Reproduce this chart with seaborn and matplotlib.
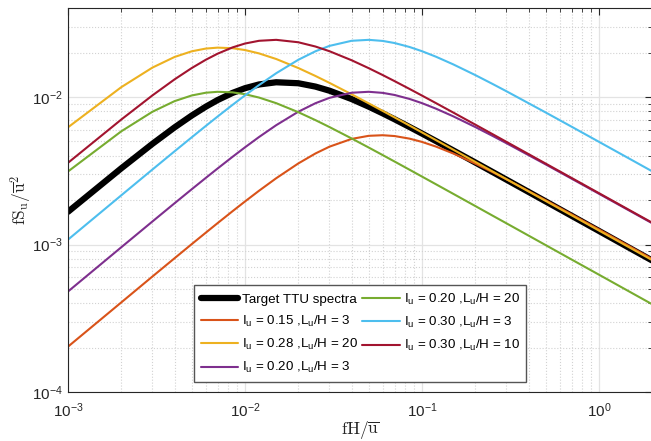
import numpy as np
import pandas as pd
import seaborn as sns
import matplotlib
matplotlib.use("Agg")
import matplotlib.pyplot as plt
from matplotlib.ticker import LogLocator, NullFormatter

# --------------------------
# data (fH/u, fSu/u^2)
# --------------------------
x_grid = [0.001, 0.002, 0.003, 0.004, 0.005, 0.006, 0.007, 0.0085, 0.01, 0.012,
          0.015, 0.02, 0.025, 0.03, 0.04, 0.05, 0.06, 0.07, 0.085, 0.1,
          0.12, 0.15, 0.2, 0.25, 0.3, 0.5, 0.7, 1.0, 1.5, 2.0]

target_ttu = [0.001666, 0.003285, 0.004816, 0.006224, 0.007486, 0.008590, 0.009533, 0.010659,
              0.011474, 0.012163, 0.012587, 0.012398, 0.011766, 0.011036, 0.009687, 0.008602,
              0.007746, 0.007062, 0.006262, 0.005651, 0.005025, 0.004346, 0.003598, 0.003105,
              0.002751, 0.001959, 0.001566, 0.001235, 0.000942, 0.000778]
iu015_l3 = [0.000203, 0.000405, 0.000607, 0.000807, 0.001006, 0.001202, 0.001396, 0.001681,
            0.001958, 0.002314, 0.002813, 0.003544, 0.004141, 0.004605, 0.005198, 0.005456,
            0.005506, 0.005436, 0.005221, 0.004960, 0.004610, 0.004142, 0.003537, 0.003098,
            0.002768, 0.001995, 0.001600, 0.001264, 0.000966, 0.000797]
iu028_l20 = [0.006229, 0.011661, 0.015830, 0.018679, 0.020407, 0.021296, 0.021610, 0.021421,
             0.020814, 0.019753, 0.018099, 0.015722, 0.013887, 0.012468, 0.010436, 0.009052,
             0.008045, 0.007274, 0.006404, 0.005753, 0.005099, 0.004397, 0.003632, 0.003131,
             0.002773, 0.001973, 0.001577, 0.001243, 0.000949, 0.000783]
iu020_l3 = [0.000480, 0.000958, 0.001433, 0.001904, 0.002369, 0.002826, 0.003275, 0.003930,
            0.004559, 0.005354, 0.006439, 0.007945, 0.009074, 0.009870, 0.010688, 0.010848,
            0.010665, 0.010321, 0.009703, 0.009084, 0.008333, 0.007400, 0.006257, 0.005454,
            0.004861, 0.003490, 0.002795, 0.002207, 0.001685, 0.001392]
iu020_l20 = [0.003126, 0.005853, 0.007945, 0.009375, 0.010242, 0.010688, 0.010846, 0.010751,
             0.010446, 0.009914, 0.009084, 0.007890, 0.006970, 0.006257, 0.005237, 0.004543,
             0.004037, 0.003651, 0.003214, 0.002887, 0.002559, 0.002207, 0.001823, 0.001571,
             0.001392, 0.000990, 0.000791, 0.000624, 0.000476, 0.000393]
iu030_l3 = [0.001079, 0.002155, 0.003225, 0.004284, 0.005329, 0.006359, 0.007369, 0.008842,
            0.010258, 0.012046, 0.014489, 0.017876, 0.020417, 0.022207, 0.024048, 0.024409,
            0.023996, 0.023222, 0.021833, 0.020438, 0.018749, 0.016649, 0.014079, 0.012272,
            0.010938, 0.007851, 0.006290, 0.004965, 0.003792, 0.003131]
iu030_l10 = [0.003579, 0.007034, 0.010258, 0.013168, 0.015714, 0.017876, 0.019660, 0.021687,
             0.023044, 0.024048, 0.024409, 0.023504, 0.021990, 0.020438, 0.017754, 0.015682,
             0.014079, 0.012811, 0.011341, 0.010222, 0.009084, 0.007851, 0.006496, 0.005604,
             0.004965, 0.003535, 0.002826, 0.002228, 0.001700, 0.001404]

labels = ['Target TTU spectra',
          r'I$_\mathregular{u}$ = 0.15 ,L$_\mathregular{u}$/H = 3',
          r'I$_\mathregular{u}$ = 0.28 ,L$_\mathregular{u}$/H = 20',
          r'I$_\mathregular{u}$ = 0.20 ,L$_\mathregular{u}$/H = 3',
          r'I$_\mathregular{u}$ = 0.20 ,L$_\mathregular{u}$/H = 20',
          r'I$_\mathregular{u}$ = 0.30 ,L$_\mathregular{u}$/H = 3',
          r'I$_\mathregular{u}$ = 0.30 ,L$_\mathregular{u}$/H = 10']
series = [target_ttu, iu015_l3, iu028_l20, iu020_l3, iu020_l20, iu030_l3, iu030_l10]
colors = ['black', '#D95319', '#EDB120', '#7E2F8E', '#77AC30', '#4DBEEE', '#A2142F']
widths = [4.5, 1.5, 1.5, 1.5, 1.5, 1.5, 1.5]

# --------------------------
# style
# --------------------------
sns.set_theme(style='white')
plt.rcParams['font.family'] = ['Liberation Sans', 'DejaVu Sans']
plt.rcParams['mathtext.fontset'] = 'custom'
plt.rcParams['mathtext.rm'] = 'Liberation Sans'
plt.rcParams['mathtext.it'] = 'Liberation Sans:italic'
plt.rcParams['mathtext.bf'] = 'Liberation Sans:bold'

fig = plt.figure(figsize=(6.51, 4.41), dpi=100)
ax = fig.add_axes([68 / 651, 49 / 441, 584.3 / 651, 383.8 / 441])

for y, lab, c, lw in zip(series, labels, colors, widths):
    sns.lineplot(x=x_grid, y=y, ax=ax, color=c, lw=lw, label=lab)

ax.set_xscale('log')
ax.set_yscale('log')
ax.set_xlim(1e-3, 2)
ax.set_ylim(1e-4, 0.04)

ax.xaxis.set_minor_locator(LogLocator(base=10, subs=np.arange(2, 10)))
ax.yaxis.set_minor_locator(LogLocator(base=10, subs=np.arange(2, 10)))
ax.xaxis.set_minor_formatter(NullFormatter())
ax.yaxis.set_minor_formatter(NullFormatter())

ax.grid(which='major', color='#e3e3e3', lw=0.9, ls='-')
ax.grid(which='minor', color='#d2d2d2', lw=0.8, ls=':')
ax.set_axisbelow(True)

ax.tick_params(which='both', direction='in', top=True, right=True,
               colors='#262626', labelsize=11)
ax.tick_params(which='major', length=5, width=0.8)
ax.tick_params(which='minor', length=3, width=0.6)
ax.tick_params(axis='x', which='major', pad=7)
for s in ax.spines.values():
    s.set_color('#262626')
    s.set_linewidth(0.8)

ax.set_xlabel(r'$\mathrm{fH/\overline{u}}$', fontsize=12.5, color='#262626',
              math_fontfamily='cm', labelpad=-1)
ax.set_ylabel(r'$\mathrm{fS_u/\overline{u}^2}$', fontsize=12.5, color='#262626',
              math_fontfamily='cm', labelpad=-1)

leg = ax.legend(ncol=2, loc='lower left', bbox_to_anchor=(0.2157, 0.026),
                borderaxespad=0, fontsize=9.6, frameon=True, fancybox=False,
                framealpha=1, edgecolor='#555555', handlelength=2.8,
                handletextpad=0.3, columnspacing=0.3, labelspacing=0.6,
                borderpad=0.5)
leg.get_frame().set_linewidth(1.0)
for t in leg.get_texts():
    t.set_color('black')

fig.savefig('out.png', dpi=100, facecolor='white')
